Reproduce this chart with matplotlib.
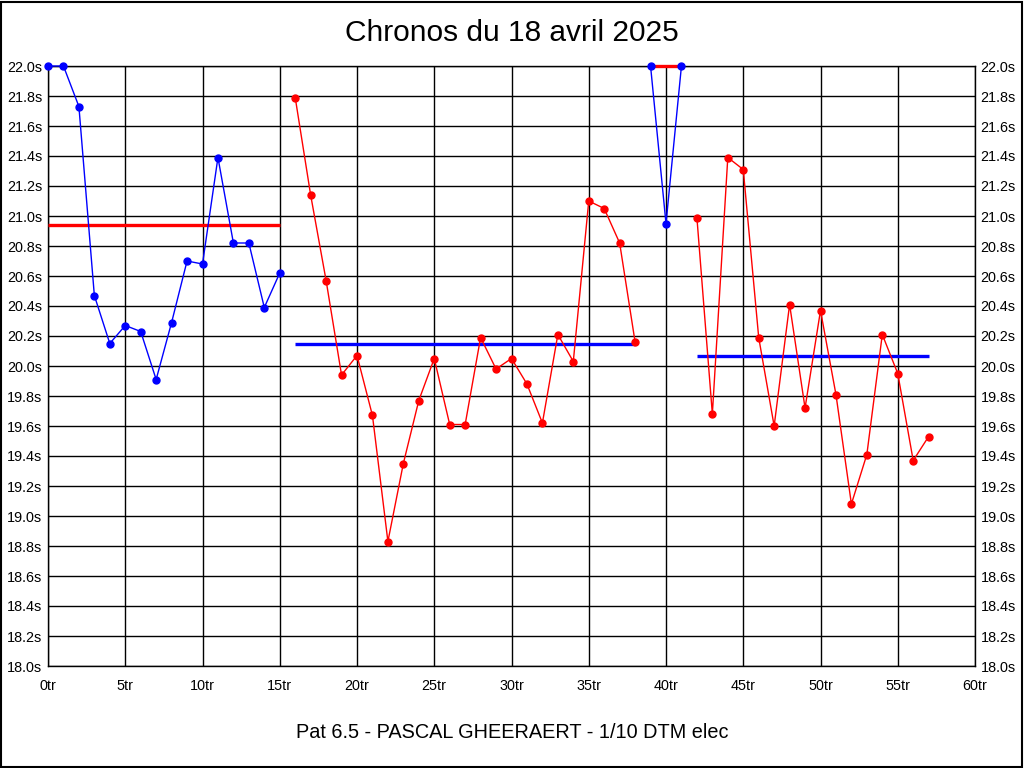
import matplotlib.pyplot as plt
import matplotlib.ticker as ticker
import numpy as np

plt.rcParams['font.family'] = ['Liberation Sans', 'DejaVu Sans']

title = 'Chronos du 18 avril 2025'
footer = 'Pat 6.5 - PASCAL GHEERAERT - 1/10 DTM elec'

# lap times, one list per stint (lap index starts at the first value)
stint1_start = 0
stint1 = [22.0, 22.0, 21.73, 20.47, 20.15, 20.27, 20.23, 19.91, 20.29, 20.70,
          20.68, 21.39, 20.82, 20.82, 20.39, 20.62]
stint2_start = 16
stint2 = [21.79, 21.14, 20.57, 19.94, 20.07, 19.67, 18.83, 19.35, 19.77, 20.05,
          19.61, 19.61, 20.19, 19.98, 20.05, 19.88, 19.62, 20.21, 20.03, 21.10,
          21.05, 20.82, 20.16]
stint3_start = 39
stint3 = [22.0, 20.95, 22.0]
stint4_start = 42
stint4 = [20.99, 19.68, 21.39, 21.31, 20.19, 19.60, 20.41, 19.72, 20.37, 19.81,
          19.08, 19.41, 20.21, 19.95, 19.37, 19.53]
# stint averages as drawn (times above 22.0s are shown capped)
stint_means = [20.94, 20.15, 22.0, 20.07]

stints = [stint1, stint2, stint3, stint4]
starts = [stint1_start, stint2_start, stint3_start, stint4_start]
colors = ['#0000ff', '#ff0000', '#0000ff', '#ff0000']
mean_colors = ['#ff0000', '#0000ff', '#ff0000', '#0000ff']

fig = plt.figure(figsize=(10.24, 7.68), dpi=100)
ax = fig.add_axes([48 / 1024, 102 / 768, 927 / 1024, 600 / 768])

for vals, start, m, c, mc in zip(stints, starts, stint_means, colors, mean_colors):
    laps = np.arange(start, start + len(vals))
    ax.plot(laps, vals, color=c, lw=1.0, marker='o', ms=5, zorder=4,
            clip_on=False)
    ax.hlines(m, laps[0], laps[-1], color=mc, lw=2.4, zorder=3, clip_on=False)

ax.set_xlim(0, 60)
ax.set_ylim(18.0, 22.0)
ax.xaxis.set_major_locator(ticker.MultipleLocator(5))
ax.yaxis.set_major_locator(ticker.MultipleLocator(0.2))
ax.xaxis.set_major_formatter(ticker.FuncFormatter(lambda v, p: f'{v:.0f}tr'))
ax.yaxis.set_major_formatter(ticker.FuncFormatter(lambda v, p: f'{v:.1f}s'))
ax.grid(True, color='black', lw=1.0)
ax.set_axisbelow(True)
ax.tick_params(length=0, labelsize=10.4, pad=4, right=True, labelright=True)
ax.tick_params(axis='x', pad=9)
for s in ax.spines.values():
    s.set_color('black')
    s.set_linewidth(1.0)

fig.text(0.5, 1 - 33 / 768, title, ha='center', va='center', fontsize=21.5)
fig.text(0.5, 1 - 733 / 768, footer, ha='center', va='center', fontsize=14.3)

# frame around the whole picture
fig.add_artist(plt.Rectangle((0.001, 0.001), 0.997, 0.997, transform=fig.transFigure,
                             fill=False, edgecolor='black', lw=1.5))

fig.savefig('out.png', dpi=100)
